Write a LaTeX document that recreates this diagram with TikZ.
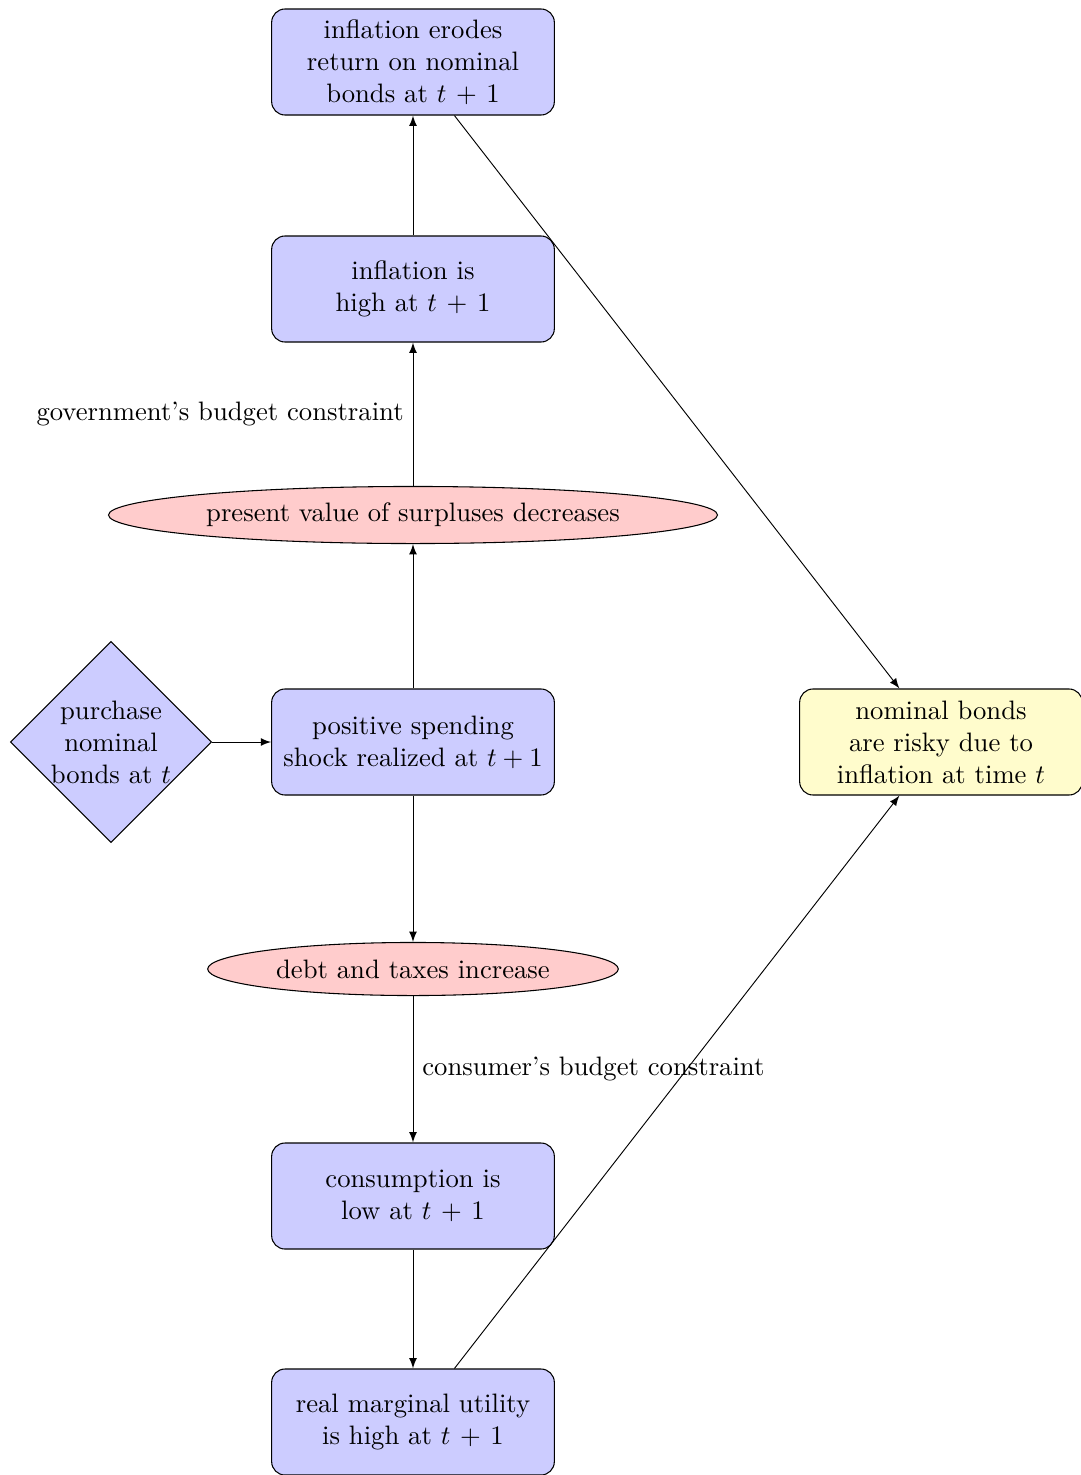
\documentclass[tikz,border=0pt]{standalone}
\usetikzlibrary{shapes.geometric,arrows}
\newcommand{\tpo}{{\medmuskip=6.5mu $t+1$}}
\begin{document}
\begin{tikzpicture}[x=0.375pt,y=-0.375pt,
  blk/.style={draw, rounded corners=5pt, fill=blue!20, align=center, minimum width=106pt, minimum height=39.75pt, inner sep=2pt},
  ybox/.style={blk, fill=yellow!20},
  ell/.style={draw, ellipse, fill=red!20, inner sep=0pt},
  dia/.style={draw, diamond, fill=blue!20, align=center, inner sep=-3pt, minimum width=75.4pt, minimum height=75.4pt},
  arr/.style={-latex, line width=0.35pt}]
\useasboundingbox (0,0) rectangle (1081,1475);
\node[blk] (erode) at (413,62) {inflation erodes\\return on nominal\\bonds at \tpo};
\node[blk] (infl) at (413,289) {inflation is\\high at \tpo};
\node[ell, minimum width=228.4pt, minimum height=21.4pt] (pv) at (413,515) {present value of surpluses decreases};
\node[blk] (shock) at (413,742) {positive spending\\shock realized at $t+1$};
\node[dia] (buy) at (111,742) {purchase\\nominal\\bonds at $t$};
\node[ybox] (risky) at (941,742) {nominal bonds\\are risky due to\\inflation at time $t$};
\node[ell, minimum width=154pt, minimum height=19.9pt] (debt) at (413,969) {debt and taxes increase};
\node[blk] (cons) at (413,1196) {consumption is\\low at \tpo};
\node[blk] (mu) at (413,1422) {real marginal utility\\is high at \tpo};
\draw[arr] (buy) -- (shock);
\draw[arr] (shock) -- (pv);
\draw[arr] (pv) -- node[left] {government's budget constraint} (infl);
\draw[arr] (infl) -- (erode);
\draw[arr] (erode) -- (risky);
\draw[arr] (shock) -- (debt);
\draw[arr] (debt) -- node[right] {consumer's budget constraint} (cons);
\draw[arr] (cons) -- (mu);
\draw[arr] (mu) -- (risky);
\end{tikzpicture}
\end{document}
